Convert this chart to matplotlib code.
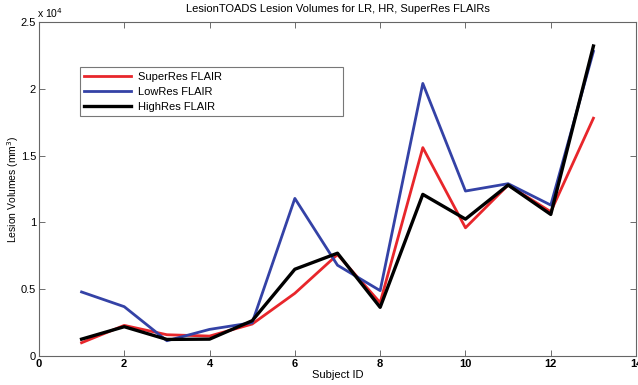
import matplotlib
matplotlib.use("Agg")
import matplotlib.pyplot as plt
from matplotlib.ticker import MultipleLocator, FuncFormatter

plt.rcParams['font.family'] = ['Liberation Sans', 'DejaVu Sans']

subjects = list(range(1, 14))
superres = [1000, 2300, 1600, 1500, 2400, 4700, 7600, 4000, 15600, 9600, 12800, 10800, 17800]
lowres = [4800, 3700, 1150, 2000, 2500, 11800, 6800, 4900, 20400, 12350, 12900, 11300, 22800]
highres = [1270, 2200, 1250, 1270, 2650, 6500, 7700, 3650, 12100, 10250, 12800, 10600, 23200]
labels = ["SuperRes FLAIR", "LowRes FLAIR", "HighRes FLAIR"]
title = "LesionTOADS Lesion Volumes for LR, HR, SuperRes FLAIRs"

scale = 1e4

fig = plt.figure(figsize=(6.38, 3.85), dpi=100)
ax = fig.add_axes([0.061, 0.075, 0.936, 0.868])

ax.plot(subjects, [v / scale for v in superres], color='#e8262b', lw=2.0, label=labels[0])
ax.plot(subjects, [v / scale for v in lowres], color='#3442a6', lw=2.0, label=labels[1])
ax.plot(subjects, [v / scale for v in highres], color='black', lw=2.4, label=labels[2])

ax.set_xlim(0, 14)
ax.set_ylim(0, 2.5)
ax.xaxis.set_major_locator(MultipleLocator(2))
ax.yaxis.set_major_locator(MultipleLocator(0.5))
ax.yaxis.set_major_formatter(FuncFormatter(lambda v, p: ('%g' % v)))
ax.tick_params(direction='in', top=True, right=True, length=4, width=0.6,
               labelsize=8, color='#555555', pad=2)
for lab in ax.get_xticklabels():
    lab.set_fontweight('bold')
for s in ax.spines.values():
    s.set_color('#666666')
    s.set_linewidth(0.8)

ax.set_title(title, fontsize=8, pad=7)
ax.set_xlabel("Subject ID", fontsize=8, labelpad=1)
ax.set_ylabel("Lesion Volumes (mm$^3$)", fontsize=7.5)
ax.yaxis.set_label_coords(-0.03, 0.5)
ax.text(-0.003, 1.005, r"x 10$^4$", transform=ax.transAxes, fontsize=7.5, ha='left', va='bottom')

leg = ax.legend(loc='upper left', bbox_to_anchor=(0.0687, 0.865, 0.441, 0.0), mode='expand',
                fontsize=8, handlelength=4.2, fancybox=False, framealpha=1, borderpad=0.4,
                labelspacing=0.45, handletextpad=0.6, borderaxespad=0)
leg.get_frame().set_edgecolor('#777777')
leg.get_frame().set_linewidth(0.8)

fig.savefig("out.png", dpi=100)
